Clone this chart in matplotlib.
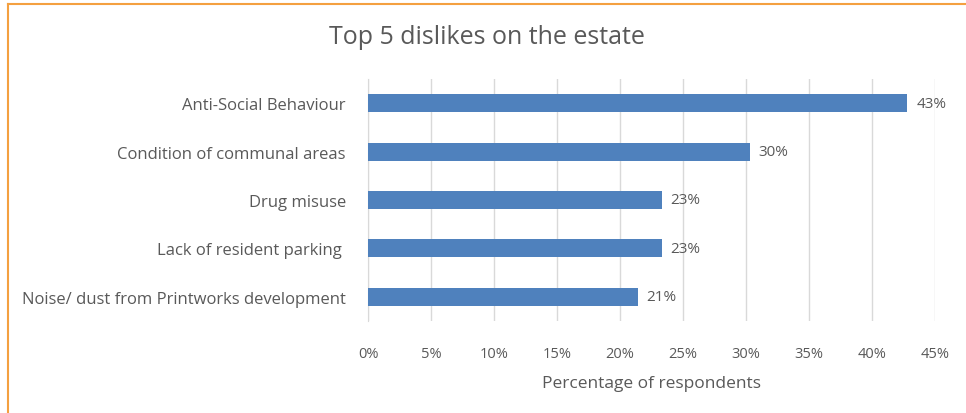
import matplotlib
matplotlib.use('Agg')
import matplotlib.pyplot as plt
from matplotlib.lines import Line2D

categories = ['Anti-Social Behaviour', 'Condition of communal areas', 'Drug misuse',
              'Lack of resident parking ', 'Noise/ dust from Printworks development']
values = [42.8, 30.3, 23.3, 23.3, 21.4]
value_labels = ['43%', '30%', '23%', '23%', '21%']
x_ticks = [0, 5, 10, 15, 20, 25, 30, 35, 40, 45]

plt.rcParams['font.family'] = ['Open Sans', 'DejaVu Sans']
grey = '#595959'

fig = plt.figure(figsize=(9.66, 4.14), dpi=100)
ax = fig.add_axes([0.381, 0.222, 0.587, 0.585])

ypos = list(range(len(categories)))
ax.barh(ypos, values, height=0.37, color='#4F81BD', zorder=3)
for y, v, lab in zip(ypos, values, value_labels):
    ax.text(v + 0.7, y, lab, va='center', ha='left', fontsize=11, color=grey)

ax.set_ylim(len(categories) - 0.5, -0.5)
ax.set_xlim(0, 45)
ax.set_yticks(ypos)
ax.set_yticklabels(categories, fontsize=12, color=grey)
ax.set_xticks(x_ticks)
ax.set_xticklabels([f'{t}%' for t in x_ticks], fontsize=10.5, color=grey)
ax.tick_params(length=0, pad=18)
ax.tick_params(axis='y', pad=16)
ax.grid(axis='x', color='#d9d9d9', linewidth=1, zorder=0)
for s in ['top', 'right', 'bottom']:
    ax.spines[s].set_visible(False)
ax.spines['left'].set_color('#d9d9d9')
ax.set_xlabel('Percentage of respondents', fontsize=12.5, color=grey, labelpad=10)

fig.text(0.504, 0.91, 'Top 5 dislikes on the estate', ha='center', va='center',
         fontsize=18, color=grey)

# orange frame on left and top
fig.add_artist(Line2D([0.0085, 0.0085], [0, 0.988], transform=fig.transFigure, color='#F4A040', lw=1.5))
fig.add_artist(Line2D([0.0085, 1], [0.988, 0.988], transform=fig.transFigure, color='#F4A040', lw=1.5))

fig.savefig('out.png', dpi=100)
